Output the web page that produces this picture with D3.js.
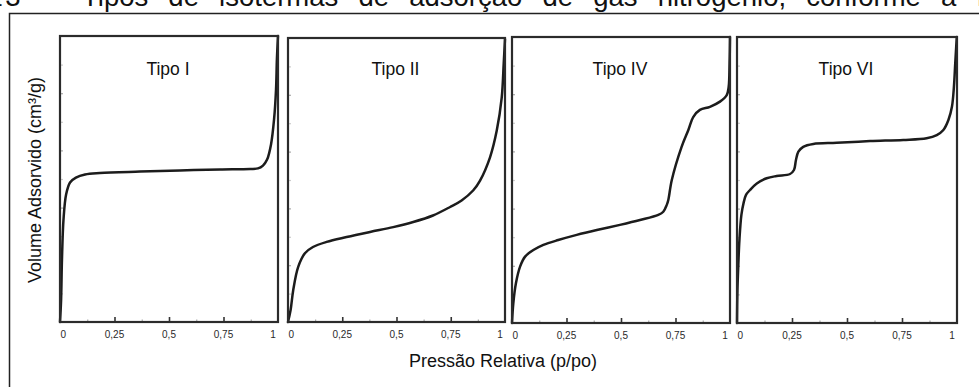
<!DOCTYPE html>
<html>
<head>
<meta charset="utf-8">
<script src="https://cdn.jsdelivr.net/npm/d3@7"></script>
<style>
  html, body { margin: 0; padding: 0; background: #fff; overflow: hidden; }
  svg { display: block; font-family: "Liberation Sans", Arial, Helvetica, sans-serif; }
</style>
</head>
<body>
<svg id="chart" width="979" height="387"></svg>
<script>
// Isotherm types (IUPAC): relative pressure p/po and adsorbed volume (arbitrary units 0–10)
const panelTitles = ["Tipo I", "Tipo II", "Tipo IV", "Tipo VI"];

const typeI_p = [0, 0.005, 0.009, 0.016, 0.028, 0.046, 0.073, 0.115, 0.183, 0.367, 0.55, 0.734, 0.872, 0.908, 0.931, 0.950, 0.968, 0.982, 0.991, 0.995, 1.0];
const typeI_v = [0, 0.77, 2.18, 3.58, 4.46, 4.88, 5.05, 5.16, 5.21, 5.26, 5.30, 5.33, 5.35, 5.37, 5.47, 5.68, 6.21, 7.09, 8.14, 9.19, 10.0];

const typeII_p = [0, 0.012, 0.024, 0.047, 0.078, 0.115, 0.178, 0.27, 0.378, 0.485, 0.577, 0.668, 0.747, 0.80, 0.853, 0.885, 0.931, 0.962, 0.985, 0.994, 1.0];
const typeII_v = [0, 0.42, 1.12, 1.94, 2.42, 2.64, 2.82, 2.99, 3.17, 3.34, 3.52, 3.75, 4.05, 4.28, 4.63, 4.98, 5.80, 6.74, 7.91, 9.09, 9.96];

const typeIV_p = [0, 0.006, 0.018, 0.037, 0.06, 0.098, 0.144, 0.212, 0.297, 0.389, 0.495, 0.587, 0.671, 0.694, 0.71, 0.717, 0.733, 0.778, 0.809, 0.832, 0.862, 0.908, 0.954, 0.985, 0.994, 0.998, 1.0];
const typeIV_v = [0, 0.69, 1.39, 1.97, 2.32, 2.55, 2.73, 2.90, 3.08, 3.25, 3.43, 3.60, 3.78, 3.89, 4.13, 4.30, 5.0, 6.16, 6.75, 7.21, 7.45, 7.56, 7.74, 7.97, 8.26, 9.08, 10.0];

const typeVI_p = [0, 0.002, 0.006, 0.011, 0.020, 0.030, 0.041, 0.059, 0.09, 0.135, 0.18, 0.241, 0.259, 0.268, 0.279, 0.301, 0.347, 0.453, 0.605, 0.756, 0.862, 0.908, 0.938, 0.961, 0.977, 0.986, 0.992, 0.999];
const typeVI_v = [0, 1.15, 2.03, 2.90, 3.78, 4.20, 4.48, 4.65, 4.88, 5.06, 5.14, 5.21, 5.35, 5.70, 5.99, 6.16, 6.26, 6.30, 6.36, 6.40, 6.46, 6.57, 6.75, 7.10, 7.56, 8.26, 9.08, 10.0];

const pressureTicks = [0, 0.25, 0.5, 0.75, 1];
const pressureTickLabels = ["0", "0,25", "0,5", "0,75", "1"];
const minorPressureTicks = [0.125, 0.375, 0.625, 0.875];
const volumeTicks = [1, 2, 3, 4, 5, 6, 7, 8, 9];

const series = [
  { p: typeI_p, v: typeI_v },
  { p: typeII_p, v: typeII_v },
  { p: typeIV_p, v: typeIV_v },
  { p: typeVI_p, v: typeVI_v }
];

// Panel frames on the page
const panelBoxes = [
  { left: 60,  right: 278, top: 36, bottom: 322 },
  { left: 288, right: 505, top: 38, bottom: 322 },
  { left: 512, right: 730, top: 37, bottom: 323 },
  { left: 737, right: 957, top: 37, bottom: 323 }
];

const svg = d3.select("#chart");
svg.append("rect").attr("width", 979).attr("height", 387).attr("fill", "#fff");

// Caption line above the figure frame (justified line, runs past the top edge)
const captionFont = 27.5;
const captionWordGap = 12.5;
const captionBaseline = 6;
svg.append("text")
  .attr("x", 82).attr("y", captionBaseline)
  .attr("font-size", captionFont)
  .attr("fill", "#111")
  .attr("word-spacing", captionWordGap)
  .text("Tipos de isotermas de adsorção de gás nitrogênio, conforme a IUPAC");
svg.append("text")
  .attr("x", 64).attr("y", captionBaseline)
  .attr("font-size", captionFont)
  .attr("fill", "#111")
  .attr("text-anchor", "end")
  .text("—");
svg.append("text")
  .attr("x", 20.5).attr("y", captionBaseline)
  .attr("font-size", captionFont)
  .attr("fill", "#111")
  .attr("text-anchor", "end")
  .attr("word-spacing", -4)
  .text("Figura 3");

// Outer frame of the figure
svg.append("rect")
  .attr("x", 9.5).attr("y", 13.5)
  .attr("width", 1000).attr("height", 400)
  .attr("fill", "none")
  .attr("stroke", "#222")
  .attr("stroke-width", 1.5);

const line = d3.line().curve(d3.curveCatmullRom.alpha(0.5));

panelBoxes.forEach((box, i) => {
  const x = d3.scaleLinear().domain([0, 1]).range([box.left, box.right]);
  const y = d3.scaleLinear().domain([0, 10]).range([box.bottom, box.top]);
  const g = svg.append("g");

  // faint volume ticks along the inner left edge
  g.append("g")
    .attr("transform", `translate(${box.left},0)`)
    .call(d3.axisRight(y).tickValues(volumeTicks).tickSize(3).tickFormat(""))
    .call(a => a.select(".domain").remove())
    .call(a => a.selectAll(".tick line")
      .attr("stroke", (d) => d % 2 === 0 ? "#aaa" : "#ccc")
      .attr("stroke-width", 1.2));

  // minor pressure ticks
  g.append("g")
    .attr("transform", `translate(0,${box.bottom})`)
    .call(d3.axisBottom(x).tickValues(minorPressureTicks).tickSize(-2.5).tickFormat(""))
    .call(a => a.select(".domain").remove())
    .call(a => a.selectAll(".tick line").attr("stroke", "#aaa").attr("stroke-width", 1.2));

  // major pressure ticks
  g.append("g")
    .attr("transform", `translate(0,${box.bottom})`)
    .call(d3.axisBottom(x).tickValues(pressureTicks.slice(1, -1)).tickSize(-5).tickFormat(""))
    .call(a => a.select(".domain").remove())
    .call(a => a.selectAll(".tick line").attr("stroke", "#333").attr("stroke-width", 1.6));

  // pressure tick labels
  g.selectAll("text.tl")
    .data(pressureTicks)
    .join("text")
    .attr("class", "tl")
    .attr("x", (d, k) => x(d) + (k === 0 ? 0.5 : k === pressureTicks.length - 1 ? -5 : 0))
    .attr("y", box.bottom + 16)
    .attr("font-size", 10)
    .attr("fill", "#2a2a2a")
    .attr("text-anchor", (d, k) => k === 0 ? "start" : "middle")
    .text((d, k) => pressureTickLabels[k]);

  // isotherm curve
  const s = series[i];
  g.append("path")
    .datum(s.p.map((p, k) => [x(p), y(s.v[k])]))
    .attr("d", line)
    .attr("fill", "none")
    .attr("stroke", "#1c1c1c")
    .attr("stroke-width", 2.5)
    .attr("stroke-linejoin", "round")
    .attr("stroke-linecap", "round");

  // panel frame
  g.append("rect")
    .attr("x", box.left).attr("y", box.top)
    .attr("width", box.right - box.left).attr("height", box.bottom - box.top)
    .attr("fill", "none")
    .attr("stroke", "#2b2b2b")
    .attr("stroke-width", 2.2);

  // panel title
  g.append("text")
    .attr("x", (box.left + box.right) / 2 - 1)
    .attr("y", 75)
    .attr("font-size", 17.5)
    .attr("fill", "#111")
    .attr("text-anchor", "middle")
    .text(panelTitles[i]);
});

// Axis titles
svg.append("text")
  .attr("x", 503).attr("y", 367)
  .attr("font-size", 18)
  .attr("fill", "#111")
  .attr("text-anchor", "middle")
  .text("Pressão Relativa (p/po)");

svg.append("text")
  .attr("transform", "translate(41,180) rotate(-90)")
  .attr("font-size", 18)
  .attr("fill", "#111")
  .attr("text-anchor", "middle")
  .text("Volume Adsorvido (cm³/g)");
</script>
</body>
</html>
